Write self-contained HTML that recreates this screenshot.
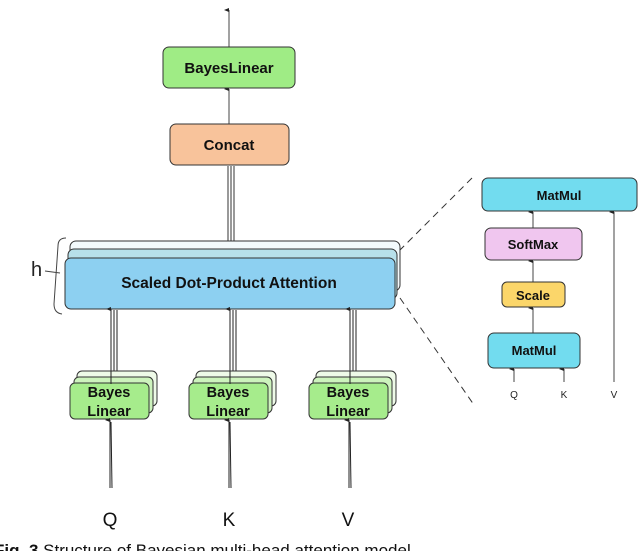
<!DOCTYPE html>
<html><head><meta charset="utf-8"><style>
html,body{margin:0;padding:0;background:#fff;}
svg{display:block;}
text{font-family:"Liberation Sans",Arial,sans-serif;}
.b{font-weight:bold;fill:#111;}
</style></head><body>
<svg width="640" height="551" viewBox="0 0 640 551" xmlns="http://www.w3.org/2000/svg">
<defs><marker id="a" markerWidth="6" markerHeight="6" refX="3" refY="5" orient="auto-start-reverse" markerUnits="userSpaceOnUse"><path d="M1,5 L3,0 L5,5 Z" fill="#222"/></marker></defs>
<text x="232" y="-4" font-family="Liberation Serif" font-size="18">y</text>
<!-- top arrows -->
<line x1="229" y1="47" x2="229" y2="10" stroke="#444" stroke-width="1" marker-end="url(#a)"/>
<line x1="229" y1="124" x2="229" y2="89" stroke="#444" stroke-width="1" marker-end="url(#a)"/>
<rect x="163" y="47" width="132" height="41" rx="6" fill="#9fec85" stroke="#333"/>
<text x="229" y="73" text-anchor="middle" class="b" font-size="15">BayesLinear</text>
<rect x="170" y="124" width="119" height="41" rx="6" fill="#f8c39b" stroke="#333"/>
<text x="229" y="150" text-anchor="middle" class="b" font-size="15">Concat</text>
<!-- concat incoming -->
<line x1="228" y1="166" x2="228" y2="241" stroke="#333"/>
<line x1="231" y1="166" x2="231" y2="241" stroke="#333"/>
<line x1="234" y1="166" x2="234" y2="241" stroke="#333"/>
<!-- attention stack -->
<rect x="70" y="241" width="330" height="50" rx="6" fill="#f3fafc" stroke="#333"/>
<rect x="68" y="249" width="329" height="50" rx="6" fill="#b7e0ea" stroke="#333"/>
<rect x="65" y="258" width="330" height="51" rx="6" fill="#8dd0f1" stroke="#333"/>
<text x="229" y="288" text-anchor="middle" class="b" font-size="15.5">Scaled Dot-Product Attention</text>
<!-- brace + h -->
<path d="M66,238 Q58,238 58,246 L54,304 Q54,313 62,314" fill="none" stroke="#444"/>
<line x1="45" y1="271" x2="60" y2="273" stroke="#444"/>
<text x="31" y="276" font-size="20" fill="#222">h</text>
<!-- Bayes linear groups -->
<g id="g1">
<line x1="111" y1="383" x2="111" y2="309" stroke="#222" marker-end="url(#a)"/>
<line x1="114" y1="371" x2="114" y2="310" stroke="#222"/>
<line x1="117" y1="371" x2="117" y2="310" stroke="#222"/>
<rect x="77" y="371" width="80" height="35" rx="5" fill="#eefae8" stroke="#333"/>
<rect x="74" y="377" width="79" height="36" rx="5" fill="#cdf3bd" stroke="#333"/>
<rect x="70" y="383" width="79" height="36" rx="5" fill="#a6ec8c" stroke="#333"/>
<line x1="111" y1="384" x2="111" y2="371" stroke="#222"/>
<text x="109" y="397" text-anchor="middle" class="b" font-size="14.5">Bayes</text>
<text x="109" y="416" text-anchor="middle" class="b" font-size="14.5">Linear</text>
<line x1="110" y1="488" x2="110" y2="420" stroke="#222" marker-end="url(#a)"/>
<line x1="112" y1="488" x2="111" y2="422" stroke="#222"/>
</g>
<use href="#g1" transform="translate(119,0)"/>
<use href="#g1" transform="translate(239,0)"/>
<text x="110" y="526" text-anchor="middle" font-size="19" fill="#111">Q</text>
<text x="229" y="526" text-anchor="middle" font-size="19" fill="#111">K</text>
<text x="348" y="526" text-anchor="middle" font-size="19" fill="#111">V</text>
<!-- dashed zoom lines -->
<line x1="472" y1="178" x2="400" y2="250" stroke="#333" stroke-dasharray="7,5"/>
<line x1="400" y1="298" x2="474" y2="405" stroke="#333" stroke-dasharray="7,5"/>
<!-- right panel -->
<line x1="533" y1="228" x2="533" y2="212" stroke="#444" marker-end="url(#a)"/>
<line x1="533" y1="282" x2="533" y2="261" stroke="#444" marker-end="url(#a)"/>
<line x1="533" y1="333" x2="533" y2="308" stroke="#444" marker-end="url(#a)"/>
<line x1="514" y1="382" x2="514" y2="369" stroke="#444" marker-end="url(#a)"/>
<line x1="564" y1="382" x2="564" y2="369" stroke="#444" marker-end="url(#a)"/>
<line x1="614" y1="382" x2="614" y2="212" stroke="#444" marker-end="url(#a)"/>
<rect x="482" y="178" width="155" height="33" rx="6" fill="#72dcef" stroke="#333"/>
<text x="559" y="200" text-anchor="middle" class="b" font-size="13">MatMul</text>
<rect x="485" y="228" width="97" height="32" rx="6" fill="#f0c6ef" stroke="#333"/>
<text x="533" y="249" text-anchor="middle" class="b" font-size="13">SoftMax</text>
<rect x="502" y="282" width="63" height="25" rx="5" fill="#fbd66a" stroke="#333"/>
<text x="533" y="300" text-anchor="middle" class="b" font-size="13">Scale</text>
<rect x="488" y="333" width="92" height="35" rx="6" fill="#72dcef" stroke="#333"/>
<text x="534" y="355" text-anchor="middle" class="b" font-size="13">MatMul</text>
<text x="514" y="398" text-anchor="middle" font-size="10" fill="#222">Q</text>
<text x="564" y="398" text-anchor="middle" font-size="10" fill="#222">K</text>
<text x="614" y="398" text-anchor="middle" font-size="10" fill="#222">V</text>
<!-- caption -->
<text x="-6" y="556" font-family="Liberation Serif" font-size="17" fill="#111"><tspan font-weight="bold">Fig. 3</tspan> Structure of Bayesian multi-head attention model</text>
</svg>
</body></html>
